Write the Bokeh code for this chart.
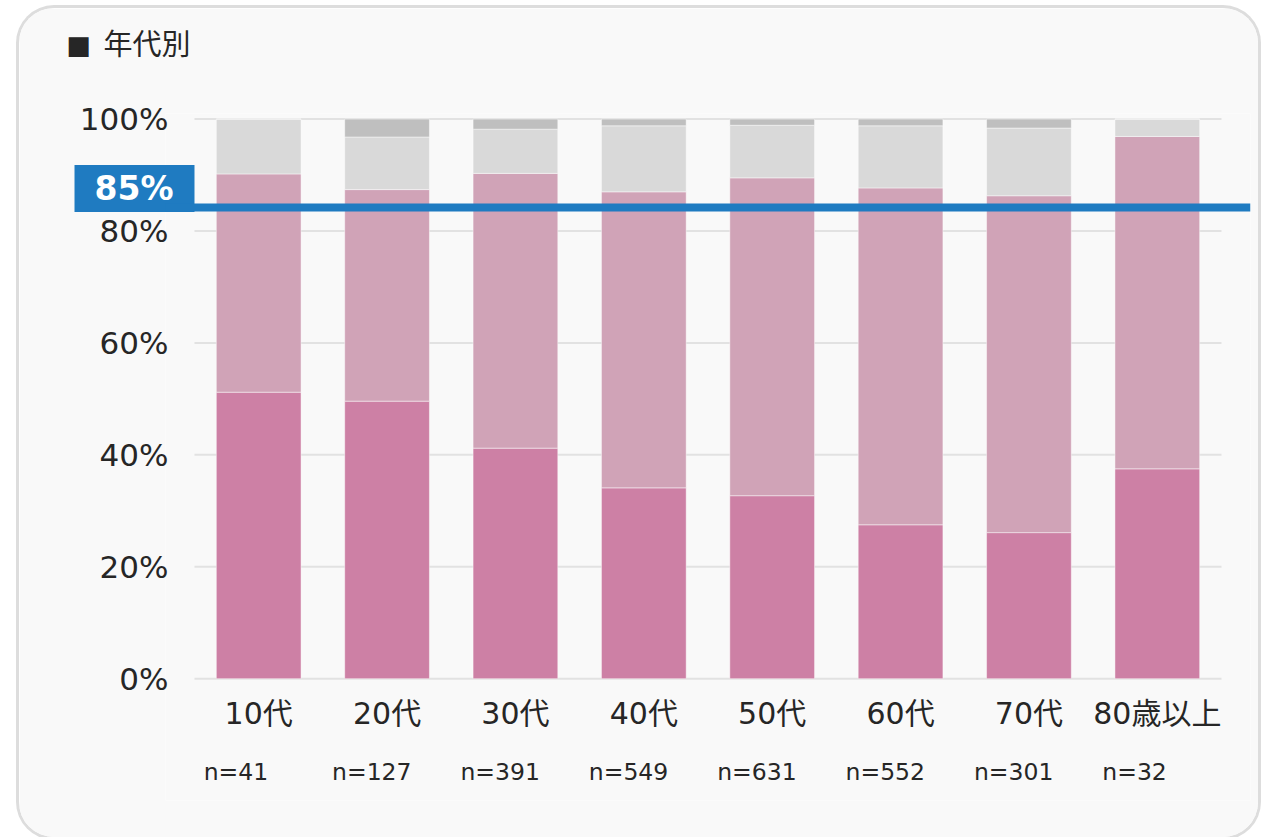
from bokeh.plotting import figure
from bokeh.models import (ColumnDataSource, FactorRange, Range1d, FixedTicker,
                          PrintfTickFormatter, Span, Label, LabelSet)
from bokeh.core.properties import value
from bokeh.embed import file_html
from bokeh.resources import INLINE

# ---- data ----
categories = ["10代", "20代", "30代", "40代", "50代", "60代", "70代", "80歳以上"]
n_labels = ["n=41", "n=127", "n=391", "n=549", "n=631", "n=552", "n=301", "n=32"]
seg1 = [51.2, 49.6, 41.2, 34.1, 32.7, 27.5, 26.1, 37.5]   # dark pink
seg2 = [39.0, 37.8, 49.1, 52.9, 56.8, 60.2, 60.2, 59.4]   # light pink
seg3 = [9.8, 9.4, 7.9, 11.8, 9.4, 11.1, 12.1, 3.1]        # light gray
seg4 = [0.0, 3.2, 1.8, 1.2, 1.1, 1.2, 1.6, 0.0]           # dark gray
y_ticks = [0, 20, 40, 60, 80, 100]
ref_value = 84.2
ref_label = "85%"
title_mark = "■"
title_text = "年代別"

colors = ["#cd80a5", "#d0a3b7", "#d9d9d9", "#bfbfbf"]
FONT = "DejaVu Sans, Noto Sans CJK JP"
TXT = "#262626"
BLUE = "#1f7bc1"

src = ColumnDataSource(dict(cat=categories, s1=seg1, s2=seg2, s3=seg3, s4=seg4, n=n_labels))

p = figure(x_range=FactorRange(*categories, range_padding=0.05648),
           y_range=Range1d(-21.77, 101),
           width=1239, height=829,
           output_backend="svg", toolbar_location=None,
           min_border_left=146, min_border_right=8,
           min_border_top=105, min_border_bottom=37)
p.styles = {"margin-left": "19px", "margin-top": "8px", "border-radius": "35px",
            "overflow": "hidden", "box-shadow": "0 0 0 3px #dddddd"}
p.background_fill_color = "#f9f9f9"
p.border_fill_color = "#f9f9f9"
p.outline_line_color = None
p.grid.grid_line_color = None

# horizontal grid lines spanning only the category area
nc = len(categories)
p.segment(x0=[0] * len(y_ticks), x1=[nc] * len(y_ticks), y0=y_ticks, y1=y_ticks,
          line_color="#e2e2e2", line_width=2)

p.vbar_stack(["s1", "s2", "s3", "s4"], x="cat", width=0.66, color=colors,
             line_color="white", line_alpha=0.45, line_width=1, source=src)

p.yaxis.ticker = FixedTicker(ticks=y_ticks)
p.yaxis.formatter = PrintfTickFormatter(format="%d%%")
for ax in (p.xaxis[0], p.yaxis[0]):
    ax.axis_line_color = None
    ax.major_tick_line_color = None
    ax.minor_tick_line_color = None
    ax.major_tick_out = 0
    ax.major_tick_in = 0
    ax.major_label_text_font = FONT
    ax.major_label_text_color = TXT
p.yaxis.major_label_text_font_size = "31px"
p.xaxis.major_label_text_font_size = "30px"
p.yaxis.major_label_standoff = -3
p.xaxis.major_label_standoff = -105

# n labels
p.add_layout(LabelSet(x="cat", y=-16.76, text="n", source=src,
                      x_offset=-55, text_align="left", text_baseline="middle",
                      text_font=value(FONT), text_font_size="23.5px", text_color=TXT))

# reference line
p.add_layout(Span(location=ref_value, dimension="width", line_color=BLUE, line_width=8))

# title (side panels so they are not clipped)
p.add_layout(Label(x=0, y=113.2, x_offset=-128, text=title_mark,
                   text_align="left", text_baseline="middle", text_font=FONT,
                   text_font_size="26px", text_color=TXT), "left")
p.add_layout(Label(x=0, y=113.2, x_offset=-91, text=title_text,
                   text_align="left", text_baseline="middle", text_font=FONT,
                   text_font_size="29px", text_color=TXT), "above")

# 85% tag
p.add_layout(Label(x=0, y=87.6, x_offset=-60, text=ref_label,
                   text_align="center", text_baseline="middle", text_font=FONT,
                   text_font_style="bold", text_font_size="33px", text_color="white",
                   background_fill_color=BLUE, background_fill_alpha=1,
                   padding=dict(left=20, right=21, top=4, bottom=4)), "above")

open("out.html", "w").write(file_html(p, INLINE))
